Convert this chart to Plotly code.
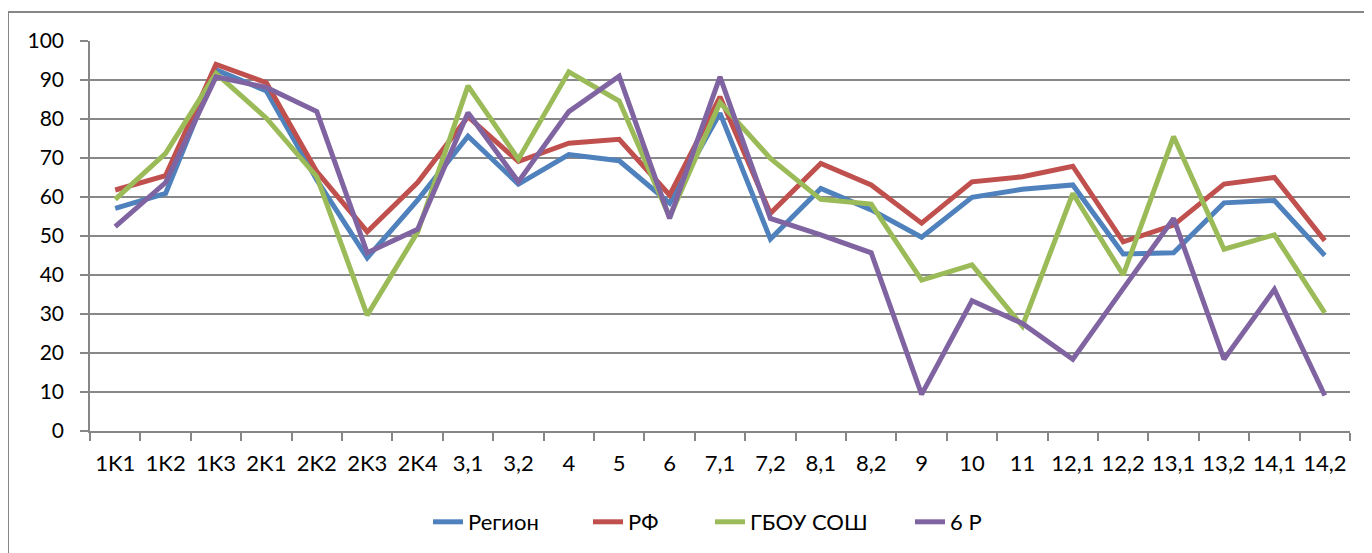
import plotly.graph_objects as go

categories = ["1K1", "1K2", "1K3", "2K1", "2K2", "2K3", "2K4", "3,1", "3,2", "4", "5", "6",
              "7,1", "7,2", "8,1", "8,2", "9", "10", "11", "12,1", "12,2", "13,1", "13,2", "14,1", "14,2"]

region = [57.1, 60.9, 92.6, 87.2, 64.4, 44.4, 59.2, 75.6, 63.3, 70.9, 69.3, 58.4,
          81.5, 49.2, 62.2, 56.7, 49.7, 59.9, 62.0, 63.1, 45.4, 45.7, 58.5, 59.1, 45.0]
rf = [61.8, 65.5, 94.0, 89.3, 66.5, 51.1, 63.7, 80.6, 69.1, 73.8, 74.8, 60.5,
      85.7, 55.8, 68.6, 63.1, 53.3, 63.9, 65.2, 67.9, 48.5, 52.8, 63.3, 65.0, 48.8]
gbou = [59.4, 71.2, 91.7, 80.2, 65.2, 29.7, 51.0, 88.5, 69.7, 92.1, 84.6, 54.8,
        84.2, 69.9, 59.4, 58.2, 38.7, 42.6, 26.9, 60.9, 40.0, 75.5, 46.6, 50.3, 30.3]
sixr = [52.4, 63.7, 90.8, 88.1, 81.9, 45.7, 51.7, 81.6, 63.9, 81.9, 91.0, 54.5,
        90.8, 54.5, 50.3, 45.7, 9.4, 33.4, 27.6, 18.4, 36.5, 54.5, 18.4, 36.3, 9.1]

series_names = ["Регион", "РФ", "ГБОУ СОШ", "6 Р"]
series_values = [region, rf, gbou, sixr]
series_colors = ["#4F81BD", "#C0504D", "#9BBB59", "#8064A2"]
legend_text_x = [470, 630, 752, 952]  # screen x where each legend label starts

# page body has an 8px margin, so the figure is sized/offset to compensate
W, H = 1364, 545
ml, mr, mt, mb = 82, 22, 33, 122
pw, ph = W - ml - mr, H - mt - mb

fig = go.Figure()
legend_layouts = {}
for i, (name, vals, color) in enumerate(zip(series_names, series_values, series_colors)):
    lg = "legend" if i == 0 else f"legend{i + 1}"
    fig.add_trace(go.Scatter(x=categories, y=vals, name=name, mode="lines",
                             line=dict(color=color, width=5), legend=lg))
    legend_layouts[lg] = dict(
        orientation="h", xanchor="left", yanchor="middle",
        x=(legend_text_x[i] - 42 - 8 - ml) / pw,
        y=(H - mb - (522 - 8)) / ph,
        font=dict(size=22), bgcolor="rgba(0,0,0,0)")

fig.update_layout(
    width=W, height=H,
    margin=dict(l=ml, r=mr, t=mt, b=mb, pad=0, autoexpand=False),
    paper_bgcolor="white", plot_bgcolor="white",
    font=dict(family="Lato, Calibri, Arial, sans-serif", size=22, color="black"),
    showlegend=True,
    xaxis=dict(type="category", showgrid=False, showline=True, linecolor="#868686", linewidth=1.5,
               ticks="outside", ticklen=8, tickcolor="#868686", tickwidth=1.5,
               tickson="boundaries", tickangle=0, ticklabelstandoff=12,
               range=[-0.5, len(categories) - 0.5], zeroline=False),
    yaxis=dict(range=[0, 100], dtick=10, tick0=0, showgrid=True, gridcolor="#888888", gridwidth=1.6,
               showline=True, linecolor="#868686", linewidth=1.5,
               ticks="outside", ticklen=8, tickcolor="#868686", tickwidth=1.5,
               ticklabelstandoff=12, zeroline=False, tickfont=dict(size=21)),
    shapes=[dict(type="rect", xref="paper", yref="paper",
                 x0=(0 - ml) / pw, x1=(1400 - ml) / pw,
                 y0=(H - mb - 600) / ph, y1=(H - mb - 4) / ph,
                 line=dict(color="#868686", width=2), fillcolor="rgba(0,0,0,0)", layer="below")],
    **legend_layouts,
)

fig.write_html("out.html")
